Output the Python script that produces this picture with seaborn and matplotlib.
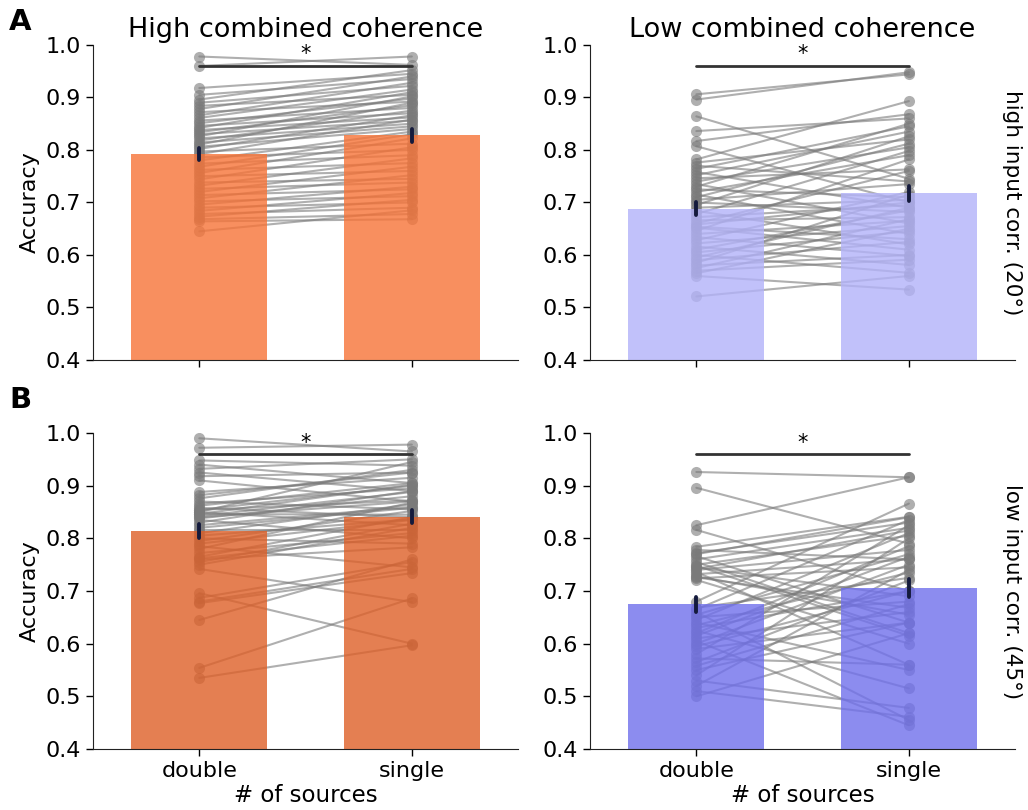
import numpy as np
import pandas as pd
import seaborn as sns
import matplotlib.pyplot as plt

# Per-subject accuracy, paired by index (double -> single sources)
hi_coh_hi_corr_double = [
    0.978, 0.960, 0.918, 0.905, 0.896, 0.890, 0.884, 0.878, 0.872, 0.866,
    0.861, 0.856, 0.851, 0.846, 0.842, 0.838, 0.834, 0.830, 0.826, 0.822,
    0.818, 0.814, 0.810, 0.806, 0.802, 0.797, 0.792, 0.786, 0.780, 0.774,
    0.768, 0.762, 0.756, 0.750, 0.744, 0.738, 0.732, 0.726, 0.720, 0.714,
    0.708, 0.702, 0.696, 0.690, 0.684, 0.678, 0.673, 0.668, 0.664, 0.645]
hi_coh_hi_corr_single = [
    0.962, 0.978, 0.945, 0.935, 0.952, 0.922, 0.905, 0.940, 0.892, 0.928,
    0.915, 0.880, 0.898, 0.870, 0.910, 0.862, 0.885, 0.856, 0.902, 0.850,
    0.875, 0.845, 0.890, 0.840, 0.866, 0.812, 0.858, 0.800, 0.835, 0.790,
    0.830, 0.775, 0.822, 0.760, 0.805, 0.745, 0.784, 0.738, 0.768, 0.725,
    0.752, 0.712, 0.730, 0.700, 0.718, 0.690, 0.705, 0.678, 0.668, 0.685]

lo_coh_hi_corr_double = [
    0.906, 0.896, 0.864, 0.836, 0.817, 0.807, 0.782, 0.776, 0.770, 0.764,
    0.758, 0.752, 0.746, 0.740, 0.735, 0.730, 0.725, 0.720, 0.715, 0.710,
    0.705, 0.700, 0.695, 0.690, 0.684, 0.678, 0.672, 0.666, 0.660, 0.654,
    0.658, 0.652, 0.646, 0.640, 0.634, 0.628, 0.622, 0.616, 0.610, 0.605,
    0.600, 0.595, 0.590, 0.585, 0.580, 0.575, 0.570, 0.565, 0.560, 0.521]
lo_coh_hi_corr_single = [
    0.944, 0.948, 0.745, 0.860, 0.868, 0.700, 0.893, 0.820, 0.740, 0.845,
    0.690, 0.835, 0.763, 0.805, 0.660, 0.850, 0.710, 0.790, 0.640, 0.812,
    0.735, 0.682, 0.826, 0.705, 0.620, 0.798, 0.695, 0.672, 0.760, 0.630,
    0.700, 0.610, 0.782, 0.665, 0.598, 0.720, 0.655, 0.581, 0.685, 0.645,
    0.566, 0.690, 0.625, 0.715, 0.600, 0.668, 0.591, 0.650, 0.534, 0.560]

hi_coh_lo_corr_double = [
    0.990, 0.972, 0.948, 0.940, 0.932, 0.925, 0.918, 0.910, 0.888, 0.882,
    0.876, 0.870, 0.866, 0.862, 0.858, 0.854, 0.850, 0.846, 0.842, 0.838,
    0.854, 0.850, 0.846, 0.840, 0.835, 0.830, 0.825, 0.820, 0.815, 0.810,
    0.805, 0.800, 0.795, 0.790, 0.785, 0.780, 0.772, 0.765, 0.760, 0.755,
    0.696, 0.687, 0.680, 0.677, 0.645, 0.554, 0.535, 0.742, 0.750, 0.762]
hi_coh_lo_corr_single = [
    0.965, 0.978, 0.938, 0.905, 0.950, 0.890, 0.925, 0.870, 0.915, 0.925,
    0.930, 0.855, 0.895, 0.905, 0.840, 0.900, 0.945, 0.845, 0.888, 0.880,
    0.872, 0.825, 0.902, 0.870, 0.800, 0.890, 0.860, 0.858, 0.815, 0.865,
    0.836, 0.790, 0.852, 0.835, 0.745, 0.868, 0.810, 0.840, 0.783, 0.828,
    0.600, 0.755, 0.742, 0.734, 0.760, 0.686, 0.597, 0.679, 0.820, 0.805]

lo_coh_lo_corr_double = [
    0.926, 0.896, 0.825, 0.816, 0.784, 0.778, 0.772, 0.766, 0.760, 0.755,
    0.750, 0.745, 0.740, 0.736, 0.732, 0.728, 0.724, 0.721, 0.680, 0.668,
    0.665, 0.660, 0.655, 0.650, 0.645, 0.640, 0.635, 0.630, 0.625, 0.620,
    0.615, 0.610, 0.605, 0.600, 0.595, 0.590, 0.580, 0.572, 0.565, 0.558,
    0.550, 0.540, 0.530, 0.520, 0.510, 0.500, 0.770, 0.748, 0.742, 0.726]
lo_coh_lo_corr_single = [
    0.916, 0.790, 0.916, 0.700, 0.841, 0.760, 0.830, 0.640, 0.820, 0.620,
    0.805, 0.690, 0.778, 0.560, 0.760, 0.655, 0.745, 0.600, 0.866, 0.725,
    0.835, 0.455, 0.770, 0.680, 0.810, 0.550, 0.735, 0.700, 0.515, 0.785,
    0.765, 0.660, 0.445, 0.750, 0.700, 0.640, 0.825, 0.560, 0.720, 0.675,
    0.640, 0.800, 0.478, 0.740, 0.461, 0.620, 0.840, 0.615, 0.815, 0.668]

conditions = ["double", "single"]
col_titles = ["High combined coherence", "Low combined coherence"]
row_labels = ["high input corr. (20°)", "low input corr. (45°)"]

panels = [
    (hi_coh_hi_corr_double, hi_coh_hi_corr_single, "#f77337"),
    (lo_coh_hi_corr_double, lo_coh_hi_corr_single, "#b2b2f9"),
    (hi_coh_lo_corr_double, hi_coh_lo_corr_single, "#de5f27"),
    (lo_coh_lo_corr_double, lo_coh_lo_corr_single, "#6f6fec"),
]


def long_table(double, single):
    n = len(double)
    return pd.DataFrame({
        "subject": np.tile(np.arange(n), 2),
        "sources": np.repeat(conditions, n),
        "pos": np.repeat([0, 1], n),
        "acc": np.concatenate([double, single]),
    })


sns.set_style("ticks")
plt.rcParams["font.family"] = ["DejaVu Sans"]
plt.rcParams.update({
    "axes.edgecolor": "#222222",
    "text.color": "black",
    "axes.labelcolor": "black",
    "xtick.color": "black",
    "ytick.color": "black",
})

fig = plt.figure(figsize=(10.28, 8.10), dpi=100)
boxes = [
    [0.0905, 0.5556, 0.4135, 0.3889],
    [0.574, 0.5556, 0.4135, 0.3889],
    [0.0905, 0.0753, 0.4135, 0.3901],
    [0.574, 0.0753, 0.4135, 0.3901],
]

for i, ((dbl, sgl, color), box) in enumerate(zip(panels, boxes)):
    ax = fig.add_axes(box)
    df = long_table(dbl, sgl)

    # paired subject lines, kept underneath the translucent bars
    sns.lineplot(data=df, x="pos", y="acc", units="subject", estimator=None,
                 color="#7a7a7a", alpha=0.6, marker="o", markersize=8,
                 markeredgewidth=0, linewidth=1.5, ax=ax, legend=False)
    for ln in ax.lines:
        ln.set_zorder(0.5)

    sns.barplot(data=df, x="sources", y="acc", order=conditions,
                errorbar="se", color=color, alpha=0.8, width=0.64,
                saturation=1, linewidth=0, ax=ax,
                err_kws={"color": "#141a3c", "linewidth": 2.8})
    for p in ax.patches:
        p.set_zorder(1)
        p.set_edgecolor("none")
    for ln in ax.lines[len(dbl):]:
        ln.set_zorder(4)

    # significance bracket
    ax.plot([0, 1], [0.96, 0.96], color="#333333", linewidth=2, zorder=5)
    ax.text(0.5, 0.963, "*", ha="center", va="bottom", fontsize=15)

    ax.set_xlim(-0.5, 1.5)
    ax.set_ylim(0.4, 1.0)
    ticks = np.arange(0.4, 1.01, 0.1)
    ax.set_yticks(ticks)
    ax.set_yticklabels([f"{v:.1f}" for v in ticks])
    ax.tick_params(labelsize=16, length=5, width=1)
    sns.despine(ax=ax)

    row, col = divmod(i, 2)
    ax.set_xticks([0, 1])
    if row == 0:
        ax.set_title(col_titles[col], fontsize=19.5, pad=6)
        ax.set_xticklabels([])
        ax.set_xlabel("")
    else:
        ax.set_xticklabels(conditions)
        ax.set_xlabel("# of sources", fontsize=16.5, labelpad=2)
    if col == 0:
        ax.set_ylabel("Accuracy", fontsize=16)
    else:
        ax.set_ylabel("")

fig.text(0.009, 0.99, "A", fontsize=21, fontweight="bold", va="top")
fig.text(0.009, 0.523, "B", fontsize=21, fontweight="bold", va="top")
fig.text(0.984, 0.75, row_labels[0], rotation=270, va="center",
         ha="center", fontsize=15.5)
fig.text(0.984, 0.27, row_labels[1], rotation=270, va="center",
         ha="center", fontsize=15.5)

fig.savefig("out.png", dpi=100)
